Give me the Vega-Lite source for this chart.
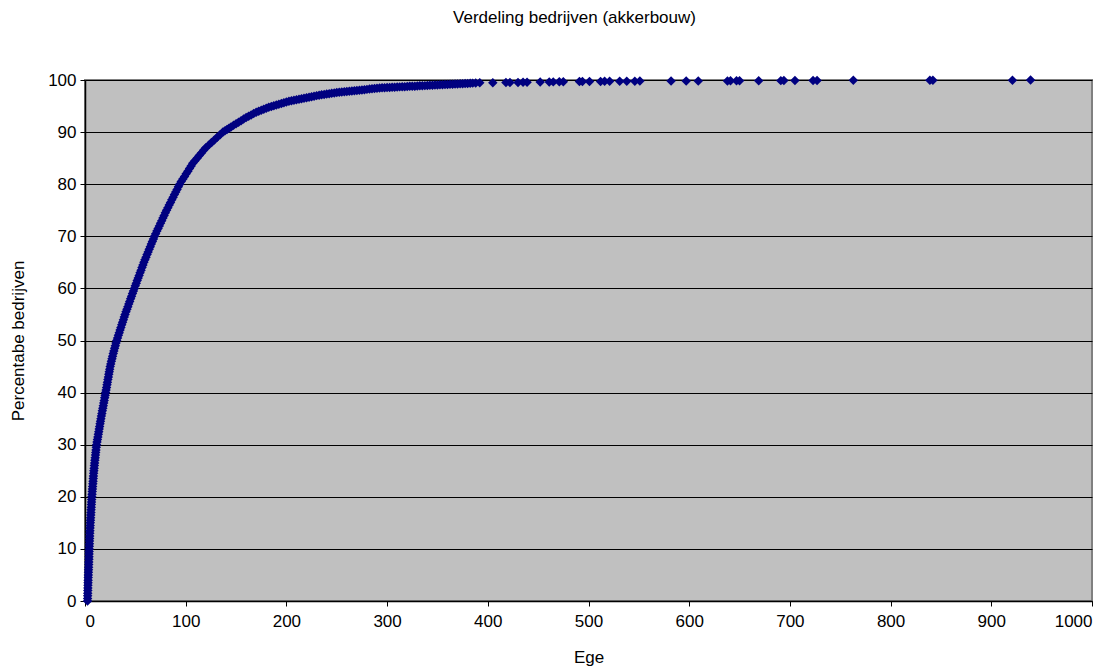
{
  "$schema": "https://vega.github.io/schema/vega-lite/v6.json",
  "autosize": "none",
  "width": 1007,
  "height": 521,
  "padding": {"left": 85, "top": 80, "right": 27, "bottom": 67},
  "background": "white",
  "title": {"text": "Verdeling bedrijven (akkerbouw)", "font": "Liberation Sans", "fontSize": 17, "fontWeight": "normal", "color": "black", "offset": 44, "dx": -14},
  "config": {
    "view": {"fill": "#C0C0C0", "stroke": "#808080", "strokeWidth": 2},
    "axis": {"labelFont": "Liberation Sans", "titleFont": "Liberation Sans", "labelFontSize": 17, "titleFontSize": 17, "titleFontWeight": "normal", "labelColor": "black", "titleColor": "black", "domainColor": "black", "tickColor": "black", "tickSize": 5, "domainWidth": 1.5}
  },
  "data": {"values": [
    {"x":2.5,"y":0},{"x":2.58,"y":0.5},{"x":2.65,"y":1},{"x":2.72,"y":1.5},{"x":2.8,"y":2},{"x":2.88,"y":2.5},{"x":2.95,"y":3},{"x":3.02,"y":3.5},{"x":3.1,"y":4},{"x":3.2,"y":4.5},
    {"x":3.3,"y":5},{"x":3.4,"y":5.5},{"x":3.5,"y":6},{"x":3.6,"y":6.5},{"x":3.7,"y":7},{"x":3.8,"y":7.5},{"x":3.9,"y":8},{"x":3.98,"y":8.5},{"x":4.05,"y":9},{"x":4.12,"y":9.5},
    {"x":4.2,"y":10},{"x":4.3,"y":10.5},{"x":4.4,"y":11},{"x":4.5,"y":11.5},{"x":4.6,"y":12},{"x":4.7,"y":12.5},{"x":4.8,"y":13},{"x":4.92,"y":13.5},{"x":5.05,"y":14},{"x":5.18,"y":14.5},
    {"x":5.3,"y":15},{"x":5.45,"y":15.5},{"x":5.6,"y":16},{"x":5.75,"y":16.5},{"x":5.9,"y":17},{"x":6.05,"y":17.5},{"x":6.2,"y":18},{"x":6.35,"y":18.5},{"x":6.5,"y":19},{"x":6.65,"y":19.5},
    {"x":6.8,"y":20},{"x":7.0,"y":20.5},{"x":7.2,"y":21},{"x":7.4,"y":21.5},{"x":7.6,"y":22},{"x":7.8,"y":22.5},{"x":8.0,"y":23},{"x":8.2,"y":23.5},{"x":8.4,"y":24},{"x":8.6,"y":24.5},
    {"x":8.8,"y":25},{"x":9.05,"y":25.5},{"x":9.3,"y":26},{"x":9.55,"y":26.5},{"x":9.8,"y":27},{"x":10.1,"y":27.5},{"x":10.4,"y":28},{"x":10.65,"y":28.5},{"x":10.9,"y":29},{"x":11.2,"y":29.5},
    {"x":11.5,"y":30},{"x":11.93,"y":30.5},{"x":12.36,"y":31},{"x":12.79,"y":31.5},{"x":13.22,"y":32},{"x":13.65,"y":32.5},{"x":14.08,"y":33},{"x":14.51,"y":33.5},{"x":14.94,"y":34},{"x":15.37,"y":34.5},
    {"x":15.8,"y":35},{"x":16.27,"y":35.5},{"x":16.74,"y":36},{"x":17.21,"y":36.5},{"x":17.68,"y":37},{"x":18.15,"y":37.5},{"x":18.62,"y":38},{"x":19.09,"y":38.5},{"x":19.56,"y":39},{"x":20.03,"y":39.5},
    {"x":20.5,"y":40},{"x":20.95,"y":40.5},{"x":21.4,"y":41},{"x":21.85,"y":41.5},{"x":22.3,"y":42},{"x":22.75,"y":42.5},{"x":23.2,"y":43},{"x":23.65,"y":43.5},{"x":24.1,"y":44},{"x":24.55,"y":44.5},
    {"x":25,"y":45},{"x":25.6,"y":45.5},{"x":26.2,"y":46},{"x":26.8,"y":46.5},{"x":27.4,"y":47},{"x":28.05,"y":47.5},{"x":28.7,"y":48},{"x":29.4,"y":48.5},{"x":30.1,"y":49},{"x":30.8,"y":49.5},
    {"x":31.5,"y":50},{"x":32.33,"y":50.5},{"x":33.16,"y":51},{"x":33.99,"y":51.5},{"x":34.82,"y":52},{"x":35.65,"y":52.5},{"x":36.48,"y":53},{"x":37.31,"y":53.5},{"x":38.14,"y":54},{"x":38.97,"y":54.5},
    {"x":39.8,"y":55},{"x":40.72,"y":55.5},{"x":41.64,"y":56},{"x":42.56,"y":56.5},{"x":43.48,"y":57},{"x":44.4,"y":57.5},{"x":45.32,"y":58},{"x":46.24,"y":58.5},{"x":47.16,"y":59},{"x":48.08,"y":59.5},
    {"x":49,"y":60},{"x":49.95,"y":60.5},{"x":50.9,"y":61},{"x":51.85,"y":61.5},{"x":52.8,"y":62},{"x":53.75,"y":62.5},{"x":54.7,"y":63},{"x":55.65,"y":63.5},{"x":56.6,"y":64},{"x":57.55,"y":64.5},
    {"x":58.5,"y":65},{"x":59.55,"y":65.5},{"x":60.6,"y":66},{"x":61.65,"y":66.5},{"x":62.7,"y":67},{"x":63.75,"y":67.5},{"x":64.8,"y":68},{"x":65.85,"y":68.5},{"x":66.9,"y":69},{"x":67.95,"y":69.5},
    {"x":69,"y":70},{"x":70.2,"y":70.5},{"x":71.4,"y":71},{"x":72.6,"y":71.5},{"x":73.8,"y":72},{"x":75,"y":72.5},{"x":76.2,"y":73},{"x":77.4,"y":73.5},{"x":78.6,"y":74},{"x":79.8,"y":74.5},
    {"x":81,"y":75},{"x":82.3,"y":75.5},{"x":83.6,"y":76},{"x":84.9,"y":76.5},{"x":86.2,"y":77},{"x":87.5,"y":77.5},{"x":88.8,"y":78},{"x":90.1,"y":78.5},{"x":91.4,"y":79},{"x":92.7,"y":79.5},
    {"x":94,"y":80},{"x":95.6,"y":80.5},{"x":97.2,"y":81},{"x":98.85,"y":81.5},{"x":100.5,"y":82},{"x":102.15,"y":82.5},{"x":103.8,"y":83},{"x":105.4,"y":83.5},{"x":107,"y":84},{"x":109.15,"y":84.5},
    {"x":111.3,"y":85},{"x":113.45,"y":85.5},{"x":115.6,"y":86},{"x":117.8,"y":86.5},{"x":120,"y":87},{"x":122.8,"y":87.5},{"x":125.6,"y":88},{"x":128.45,"y":88.5},{"x":131.3,"y":89},{"x":134.15,"y":89.5},
    {"x":137,"y":90},{"x":139,"y":90.25},{"x":141,"y":90.5},{"x":143,"y":90.75},{"x":145,"y":91},{"x":147.5,"y":91.3},{"x":150,"y":91.6},{"x":152.5,"y":91.9},{"x":155,"y":92.2},{"x":157.5,"y":92.5},
    {"x":160,"y":92.8},{"x":162.5,"y":93.05},{"x":165,"y":93.3},{"x":167.5,"y":93.55},{"x":170,"y":93.8},{"x":172.5,"y":94.0},{"x":175,"y":94.2},{"x":177.5,"y":94.4},{"x":180,"y":94.6},{"x":182.5,"y":94.75},
    {"x":185,"y":94.9},{"x":187.5,"y":95.05},{"x":190,"y":95.2},{"x":192.5,"y":95.35},{"x":195,"y":95.5},{"x":197.5,"y":95.65},{"x":200,"y":95.8},{"x":202.5,"y":95.9},{"x":205,"y":96.0},{"x":207.5,"y":96.1},
    {"x":210,"y":96.2},{"x":212.5,"y":96.3},{"x":215,"y":96.4},{"x":217.5,"y":96.5},{"x":220,"y":96.6},{"x":222.5,"y":96.7},{"x":225,"y":96.8},{"x":227.5,"y":96.9},{"x":230,"y":97.0},{"x":232.5,"y":97.08},
    {"x":235,"y":97.15},{"x":237.5,"y":97.22},{"x":240,"y":97.3},{"x":242.5,"y":97.38},{"x":245,"y":97.45},{"x":247.5,"y":97.52},{"x":250,"y":97.6},{"x":252.5,"y":97.65},{"x":255,"y":97.7},{"x":257.5,"y":97.75},
    {"x":260,"y":97.8},{"x":262.5,"y":97.85},{"x":265,"y":97.9},{"x":267.5,"y":97.95},{"x":270,"y":98.0},{"x":272.5,"y":98.05},{"x":275,"y":98.1},{"x":277.5,"y":98.15},{"x":280,"y":98.2},{"x":282.5,"y":98.25},
    {"x":285,"y":98.3},{"x":287.5,"y":98.35},{"x":290,"y":98.4},{"x":292.5,"y":98.45},{"x":295,"y":98.5},{"x":297.5,"y":98.52},{"x":300,"y":98.55},{"x":302.5,"y":98.58},{"x":305,"y":98.6},{"x":307.5,"y":98.62},
    {"x":310,"y":98.65},{"x":312.5,"y":98.68},{"x":315,"y":98.7},{"x":317.5,"y":98.72},{"x":320,"y":98.75},{"x":322.5,"y":98.78},{"x":325,"y":98.8},{"x":327.5,"y":98.82},{"x":330,"y":98.85},{"x":332.5,"y":98.88},
    {"x":335,"y":98.9},{"x":337.5,"y":98.92},{"x":340,"y":98.95},{"x":342.5,"y":98.98},{"x":345,"y":99.0},{"x":347.5,"y":99.02},{"x":350,"y":99.05},{"x":352.5,"y":99.08},{"x":355,"y":99.1},{"x":357.5,"y":99.12},
    {"x":360,"y":99.15},{"x":362.5,"y":99.18},{"x":365,"y":99.2},{"x":367.5,"y":99.22},{"x":370,"y":99.25},{"x":372.5,"y":99.28},{"x":375,"y":99.3},{"x":377.5,"y":99.32},{"x":380,"y":99.35},{"x":382.5,"y":99.38},
    {"x":385,"y":99.4},{"x":388,"y":99.42},{"x":392,"y":99.45},{"x":405,"y":99.48},{"x":418,"y":99.5},{"x":422,"y":99.52},{"x":430,"y":99.54},{"x":435,"y":99.56},{"x":439,"y":99.58},{"x":452,"y":99.6},
    {"x":461,"y":99.62},{"x":465,"y":99.64},{"x":471,"y":99.66},{"x":475,"y":99.68},{"x":491,"y":99.7},{"x":494,"y":99.71},{"x":501,"y":99.72},{"x":512,"y":99.73},{"x":516,"y":99.74},{"x":521,"y":99.75},
    {"x":531,"y":99.76},{"x":538,"y":99.77},{"x":546,"y":99.78},{"x":551,"y":99.79},{"x":582,"y":99.8},{"x":597,"y":99.81},{"x":609,"y":99.82},{"x":638,"y":99.83},{"x":641,"y":99.84},{"x":647,"y":99.85},
    {"x":650,"y":99.86},{"x":669,"y":99.87},{"x":691,"y":99.88},{"x":694,"y":99.89},{"x":705,"y":99.9},{"x":723,"y":99.91},{"x":727,"y":99.92},{"x":763,"y":99.93},{"x":839,"y":99.94},{"x":842,"y":99.95},
    {"x":921,"y":99.97},{"x":939,"y":99.98}
  ]},
  "mark": {"type": "point", "shape": "diamond", "filled": true, "color": "#000080", "opacity": 1, "size": 90, "clip": false},
  "encoding": {
    "x": {"field": "x", "type": "quantitative", "title": "Ege", "scale": {"domain": [0, 1000], "nice": false, "zero": true}, "axis": {"values": [0,100,200,300,400,500,600,700,800,900,1000], "format": "d", "grid": false, "labelPadding": 7, "titlePadding": 20}},
    "y": {"field": "y", "type": "quantitative", "title": "Percentabe bedrijven", "scale": {"domain": [0, 100], "nice": false}, "axis": {"values": [0,10,20,30,40,50,60,70,80,90,100], "format": "d", "grid": true, "gridColor": "black", "gridOpacity": 1, "gridWidth": 1, "labelPadding": 4, "titlePadding": 20}}
  }
}
